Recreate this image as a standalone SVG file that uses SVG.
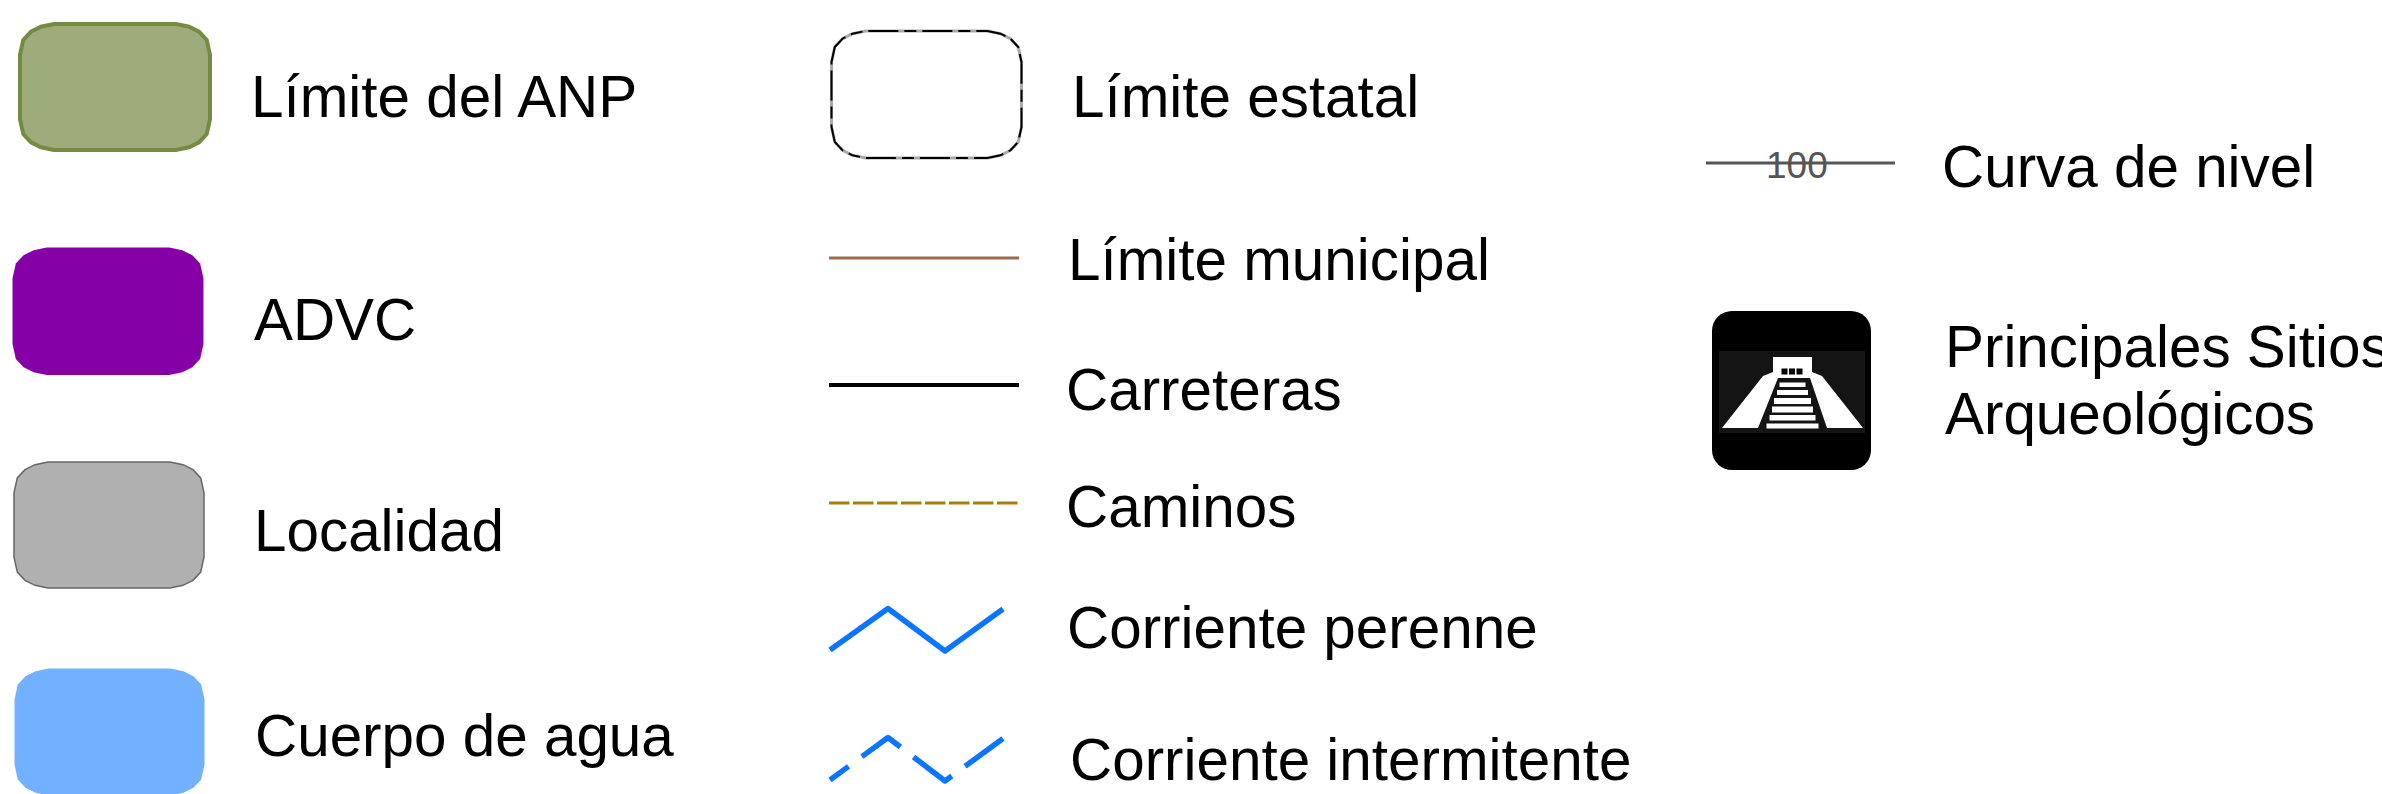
<svg xmlns="http://www.w3.org/2000/svg" width="2382" height="794" viewBox="0 0 2382 794">
<style>
text{font-family:"Liberation Sans",Arial,sans-serif;font-size:58.4px;fill:#000}
.w{fill:#fff}
.k{fill:#000}
.blue{fill:none;stroke:#0a75ff;stroke-width:5.5;stroke-linejoin:round}
</style>
<defs>
<path id="box" d="M0 31L3.3 16L11 7.7L21 2.7L34 0H156L169 2.7L179 7.7L186.7 16L190 31V96L186.7 111L179 119.3L169 124.3L156 127H34L21 124.3L11 119.3L3.3 111L0 96Z"/>
</defs>
<rect width="2382" height="794" fill="#fff"/>
<g id="limite-anp">
<use href="#box" transform="translate(20 24) scale(1 .992)" fill="#9eac7c" stroke="#748b42" stroke-width="4"/>
<text x="251" y="117">Límite del ANP</text>
</g>
<g id="advc">
<use href="#box" transform="translate(12.500 247.500) scale(1.005 1.004)" fill="#8500a6"/>
<text x="254" y="340">ADVC</text>
</g>
<g id="localidad">
<use href="#box" transform="translate(14 462) scale(1 .992)" fill="#b0b0b0" stroke="#666" stroke-width="1.500"/>
<text x="254" y="551">Localidad</text>
</g>
<g id="cuerpo-agua">
<use href="#box" transform="translate(14.500 668.500)" fill="#72b1ff"/>
<text x="255" y="756">Cuerpo de agua</text>
</g>
<g id="limite-estatal">
<use href="#box" transform="translate(831.500 31)" fill="#fff" stroke="#aaa" stroke-width="3"/>
<use href="#box" transform="translate(831.500 31)" fill="none" stroke="#000" stroke-width="2" stroke-dasharray="30 6 12 6"/>
<text x="1072" y="117">Límite estatal</text>
</g>
<g id="limite-municipal">
<text x="1068" y="280">Límite municipal</text>
</g>
<g id="carreteras">
<text x="1066" y="410">Carreteras</text>
</g>
<g id="caminos">
<text x="1066" y="527">Caminos</text>
</g>
<g id="corriente-perenne">
<text x="1067" y="648">Corriente perenne</text>
</g>
<g id="corriente-intermitente">
<text x="1070" y="780">Corriente intermitente</text>
</g>
<g id="curva-nivel">
<text x="1942" y="187">Curva de nivel</text>
<line x1="1706" y1="163" x2="1895" y2="163" stroke="#555" stroke-width="3"/>
<text x="1766" y="178" style="font-size:37px;fill:#555">100</text>
</g>
<g id="sitios-arqueologicos">
<rect x="1712" y="311" width="159" height="159" rx="20" fill="#000"/>
<rect x="1719" y="351" width="146" height="82" fill="#141414"/>
<polygon class="w" points="1773,357 1812,357 1812,372 1822,376 1863,428 1827,428 1810,378 1778,378 1758,428 1722,428 1763,376 1773,372"/>
<rect class="k" x="1781.500" y="368.500" width="6" height="6"/>
<rect class="k" x="1789" y="368.500" width="6" height="6"/>
<rect class="k" x="1796.500" y="368.500" width="6" height="6"/>
<rect class="w" x="1779.500" y="382.500" width="26" height="4.500"/>
<rect class="w" x="1777" y="390" width="31" height="5"/>
<rect class="w" x="1774" y="398" width="37" height="6"/>
<rect class="w" x="1772" y="406.500" width="41" height="6"/>
<rect class="w" x="1769.500" y="415" width="46" height="5.500"/>
<rect class="w" x="1766.500" y="423.500" width="52" height="5"/>
<text x="1945" y="367">Principales Sitios</text>
<text x="1945" y="434">Arqueológicos</text>
</g>
<g id="connectors">
<line x1="829" y1="258" x2="1019" y2="258" stroke="#9b6a4f" stroke-width="3"/>
<line x1="829" y1="385" x2="1019" y2="385" stroke="#000" stroke-width="4"/>
<line x1="829" y1="503" x2="1019" y2="503" stroke="#ad7c12" stroke-width="3" stroke-dasharray="20.500 3.500"/>
<polyline class="blue" points="830,650 888,608.500 945,651 1003,609"/>
<polyline class="blue" points="830,780 888,737.500 945,781 1003,738.500" stroke-dasharray="48 16.500" stroke-dashoffset="25"/>
</g>
</svg>
